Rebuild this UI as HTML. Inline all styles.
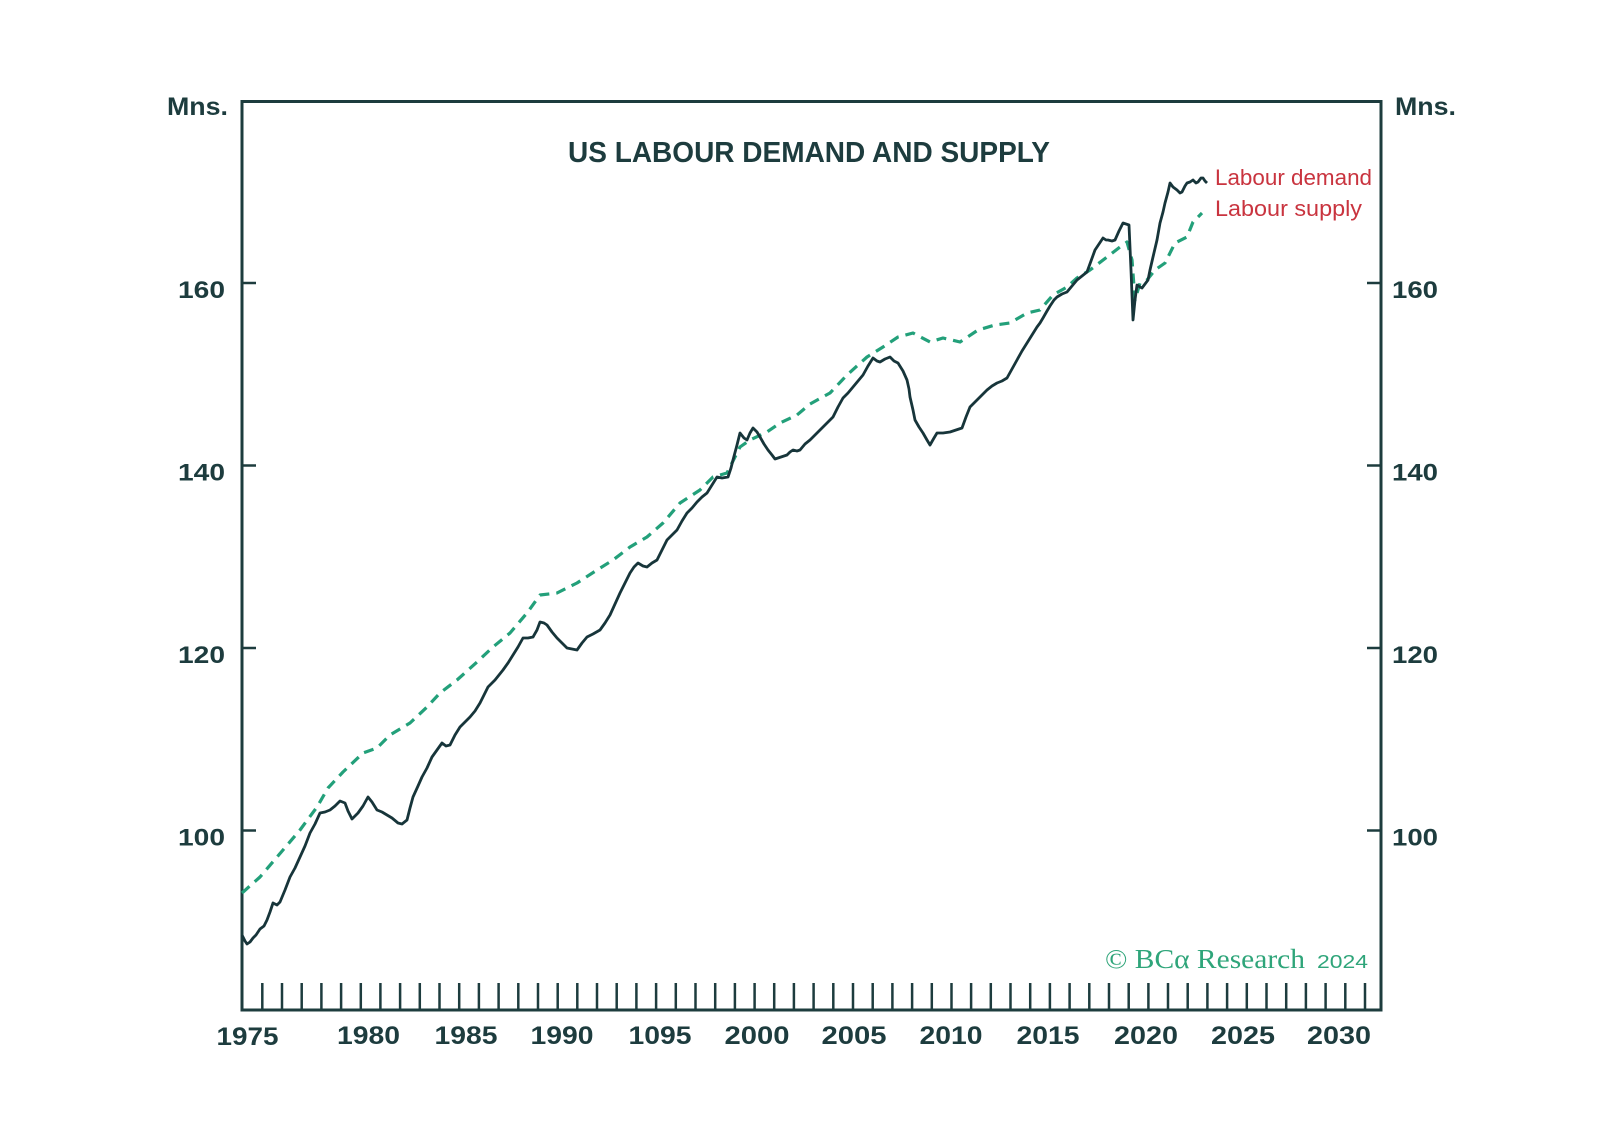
<!DOCTYPE html>
<html>
<head>
<meta charset="utf-8">
<style>
  html,body{margin:0;padding:0;background:#ffffff;}
  svg{display:block;}
  .ax{font-family:"Liberation Sans",sans-serif;font-weight:bold;fill:#1d3c3e;}
</style>
</head>
<body>
<svg width="1598" height="1144" viewBox="0 0 1598 1144" xmlns="http://www.w3.org/2000/svg">
  <rect x="0" y="0" width="1598" height="1144" fill="#ffffff"/>

  <!-- plot frame -->
  <rect x="242" y="101.5" width="1139" height="908.5" fill="none" stroke="#1d3c3e" stroke-width="3"/>

  <!-- y ticks -->
  <g stroke="#1d3c3e" stroke-width="2.5">
    <line x1="242" y1="283" x2="256" y2="283"/>
    <line x1="242" y1="465.5" x2="256" y2="465.5"/>
    <line x1="242" y1="648" x2="256" y2="648"/>
    <line x1="242" y1="830.5" x2="256" y2="830.5"/>
    <line x1="1367" y1="283" x2="1381" y2="283"/>
    <line x1="1367" y1="465.5" x2="1381" y2="465.5"/>
    <line x1="1367" y1="648" x2="1381" y2="648"/>
    <line x1="1367" y1="830.5" x2="1381" y2="830.5"/>
  </g>

  <!-- x ticks -->
  <g stroke="#1d3c3e" stroke-width="2.5">
    <line x1="262.3" y1="983" x2="262.3" y2="1010"/><line x1="282.0" y1="983" x2="282.0" y2="1010"/><line x1="301.7" y1="983" x2="301.7" y2="1010"/><line x1="321.4" y1="983" x2="321.4" y2="1010"/><line x1="341.1" y1="983" x2="341.1" y2="1010"/><line x1="360.8" y1="983" x2="360.8" y2="1010"/><line x1="380.4" y1="983" x2="380.4" y2="1010"/><line x1="400.1" y1="983" x2="400.1" y2="1010"/><line x1="419.8" y1="983" x2="419.8" y2="1010"/><line x1="439.5" y1="983" x2="439.5" y2="1010"/>
    <line x1="459.2" y1="983" x2="459.2" y2="1010"/><line x1="478.9" y1="983" x2="478.9" y2="1010"/><line x1="498.6" y1="983" x2="498.6" y2="1010"/><line x1="518.3" y1="983" x2="518.3" y2="1010"/><line x1="538.0" y1="983" x2="538.0" y2="1010"/><line x1="557.7" y1="983" x2="557.7" y2="1010"/><line x1="577.3" y1="983" x2="577.3" y2="1010"/><line x1="597.0" y1="983" x2="597.0" y2="1010"/><line x1="616.7" y1="983" x2="616.7" y2="1010"/><line x1="636.4" y1="983" x2="636.4" y2="1010"/>
    <line x1="656.1" y1="983" x2="656.1" y2="1010"/><line x1="675.8" y1="983" x2="675.8" y2="1010"/><line x1="695.5" y1="983" x2="695.5" y2="1010"/><line x1="715.2" y1="983" x2="715.2" y2="1010"/><line x1="734.9" y1="983" x2="734.9" y2="1010"/><line x1="754.6" y1="983" x2="754.6" y2="1010"/><line x1="774.2" y1="983" x2="774.2" y2="1010"/><line x1="793.9" y1="983" x2="793.9" y2="1010"/><line x1="813.6" y1="983" x2="813.6" y2="1010"/><line x1="833.3" y1="983" x2="833.3" y2="1010"/>
    <line x1="853.0" y1="983" x2="853.0" y2="1010"/><line x1="872.7" y1="983" x2="872.7" y2="1010"/><line x1="892.4" y1="983" x2="892.4" y2="1010"/><line x1="912.1" y1="983" x2="912.1" y2="1010"/><line x1="931.8" y1="983" x2="931.8" y2="1010"/><line x1="951.5" y1="983" x2="951.5" y2="1010"/><line x1="971.1" y1="983" x2="971.1" y2="1010"/><line x1="990.8" y1="983" x2="990.8" y2="1010"/><line x1="1010.5" y1="983" x2="1010.5" y2="1010"/><line x1="1030.2" y1="983" x2="1030.2" y2="1010"/>
    <line x1="1049.9" y1="983" x2="1049.9" y2="1010"/><line x1="1069.6" y1="983" x2="1069.6" y2="1010"/><line x1="1089.3" y1="983" x2="1089.3" y2="1010"/><line x1="1109.0" y1="983" x2="1109.0" y2="1010"/><line x1="1128.7" y1="983" x2="1128.7" y2="1010"/><line x1="1148.4" y1="983" x2="1148.4" y2="1010"/><line x1="1168.0" y1="983" x2="1168.0" y2="1010"/><line x1="1187.7" y1="983" x2="1187.7" y2="1010"/><line x1="1207.4" y1="983" x2="1207.4" y2="1010"/><line x1="1227.1" y1="983" x2="1227.1" y2="1010"/>
    <line x1="1246.8" y1="983" x2="1246.8" y2="1010"/><line x1="1266.5" y1="983" x2="1266.5" y2="1010"/><line x1="1286.2" y1="983" x2="1286.2" y2="1010"/><line x1="1305.9" y1="983" x2="1305.9" y2="1010"/><line x1="1325.6" y1="983" x2="1325.6" y2="1010"/><line x1="1345.3" y1="983" x2="1345.3" y2="1010"/><line x1="1365.0" y1="983" x2="1365.0" y2="1010"/>
  </g>

  <!-- axis labels -->
  <text class="ax" x="167" y="115" font-size="25" textLength="61" lengthAdjust="spacingAndGlyphs">Mns.</text>
  <text class="ax" x="1395" y="115" font-size="25" textLength="61" lengthAdjust="spacingAndGlyphs">Mns.</text>

  <g class="ax" font-size="24">
    <text x="178" y="298" textLength="47" lengthAdjust="spacingAndGlyphs">160</text>
    <text x="178" y="480.5" textLength="47" lengthAdjust="spacingAndGlyphs">140</text>
    <text x="178" y="663" textLength="47" lengthAdjust="spacingAndGlyphs">120</text>
    <text x="178" y="845.5" textLength="47" lengthAdjust="spacingAndGlyphs">100</text>
    <text x="1392" y="298" textLength="46" lengthAdjust="spacingAndGlyphs">160</text>
    <text x="1392" y="480.5" textLength="46" lengthAdjust="spacingAndGlyphs">140</text>
    <text x="1392" y="663" textLength="46" lengthAdjust="spacingAndGlyphs">120</text>
    <text x="1392" y="845.5" textLength="46" lengthAdjust="spacingAndGlyphs">100</text>
  </g>

  <g class="ax" font-size="25" text-anchor="middle">
    <text x="247.5" y="1045" textLength="62" lengthAdjust="spacingAndGlyphs">1975</text>
    <text x="368.5" y="1044" textLength="63" lengthAdjust="spacingAndGlyphs">1980</text>
    <text x="466" y="1044" textLength="63" lengthAdjust="spacingAndGlyphs">1985</text>
    <text x="562" y="1044" textLength="63" lengthAdjust="spacingAndGlyphs">1990</text>
    <text x="660" y="1044" textLength="63" lengthAdjust="spacingAndGlyphs">1095</text>
    <text x="757" y="1044" textLength="65" lengthAdjust="spacingAndGlyphs">2000</text>
    <text x="854" y="1044" textLength="65" lengthAdjust="spacingAndGlyphs">2005</text>
    <text x="951" y="1044" textLength="63" lengthAdjust="spacingAndGlyphs">2010</text>
    <text x="1048" y="1044" textLength="63" lengthAdjust="spacingAndGlyphs">2015</text>
    <text x="1146" y="1044" textLength="64" lengthAdjust="spacingAndGlyphs">2020</text>
    <text x="1243" y="1044" textLength="64" lengthAdjust="spacingAndGlyphs">2025</text>
    <text x="1339" y="1044" textLength="64" lengthAdjust="spacingAndGlyphs">2030</text>
  </g>

  <!-- title -->
  <text class="ax" x="568" y="162" font-size="29" textLength="482" lengthAdjust="spacingAndGlyphs">US LABOUR DEMAND AND SUPPLY</text>

  <!-- supply (dashed green) -->
  <polyline fill="none" stroke="#23a07a" stroke-width="3.2" stroke-dasharray="10 7" stroke-linejoin="round"
    points="242,893 260,877 283,850 300,830 317,807 328,788 343,772 363,753 377,748 390,735 410,723 427,707 440,693 457,680 477,662 493,647 510,633 527,613 540,595 557,593 577,583 597,570 613,560 630,547 647,537 663,523 680,503 700,490 713,477 727,473 740,447 750,440 767,432 780,423 797,415 810,404 830,393 847,375 867,357 883,347 898,337 913,333 930,342 943,338 960,342 978,330 995,325 1010,323 1027,313 1040,310 1053,295 1067,287 1077,278 1090,270 1107,257 1120,247 1127,242 1132,260 1135,300 1140,283 1147,280 1155,270 1165,263 1175,243 1187,237 1193,222 1202,213"/>

  <!-- demand (solid dark) -->
  <polyline fill="none" stroke="#17353a" stroke-width="2.8" stroke-linejoin="round"
    points="242,935 245,941 247,944 250,942 253,938 256,935 260,929 264,926 267,920 270,912 273,903 277,905 280,902 285,890 290,877 295,868 300,857 305,846 310,833 315,824 320,813 325,812 330,810 335,806 340,801 345,803 348,811 352,819 355,816 358,813 363,806 368,797 372,802 377,810 382,812 387,815 392,818 398,823 402,824 407,820 410,808 413,797 418,786 422,777 427,768 432,757 437,750 442,743 446,746 450,745 455,735 460,727 465,722 470,717 475,711 480,703 484,695 488,687 495,680 503,670 508,663 513,655 518,647 523,638 528,638 533,637 537,630 540,622 544,623 547,625 552,632 557,638 562,643 567,648 572,649 577,650 582,643 587,637 593,634 600,630 605,623 610,615 615,604 620,593 625,583 630,573 634,567 638,563 643,566 647,567 652,563 657,560 662,550 667,540 672,535 677,530 682,521 687,513 692,508 697,502 702,497 707,493 712,485 717,477 722,478 728,477 731,468 733,460 737,445 740,433 744,438 747,440 750,433 753,428 757,432 760,437 764,444 768,450 772,455 775,459 781,457 787,455 790,452 793,450 797,451 800,450 805,444 810,440 816,434 823,427 828,422 833,417 838,407 843,398 848,393 853,387 858,381 863,375 868,366 873,358 877,361 880,362 885,359 890,357 894,361 898,363 903,371 907,380 909,389 910,397 913,410 915,420 919,427 923,433 927,440 930,445 934,438 937,433 943,433 950,432 956,430 962,428 966,417 970,407 974,403 977,400 982,395 987,390 992,386 997,383 1002,381 1007,378 1012,369 1017,360 1022,351 1027,343 1032,335 1037,327 1040,323 1043,318 1047,311 1050,306 1054,300 1057,297 1062,294 1067,292 1072,286 1077,280 1082,276 1087,272 1091,261 1095,250 1099,244 1103,238 1106,240 1108,240 1112,241 1115,240 1119,231 1123,223 1126,224 1129,225 1131,270 1133,320 1135,300 1137,285 1140,287 1142,288 1145,284 1148,280 1150,270 1153,257 1157,240 1160,223 1163,212 1165,203 1168,192 1170,183 1173,187 1177,190 1180,193 1182,192 1185,186 1187,183 1190,182 1193,180 1196,183 1198,182 1201,178 1203,178 1205,181 1207,183"/>

  <!-- legend -->
  <g font-family="Liberation Sans, sans-serif" font-size="22" fill="#c9343f">
    <text x="1215" y="185" textLength="157" lengthAdjust="spacingAndGlyphs">Labour demand</text>
    <text x="1215" y="216" textLength="147" lengthAdjust="spacingAndGlyphs">Labour supply</text>
  </g>

  <!-- copyright -->
  <text x="1105" y="968" font-family="Liberation Serif, serif" font-size="27" fill="#2fa57a" textLength="200" lengthAdjust="spacingAndGlyphs">© BCα Research</text>
  <text x="1317" y="968" font-family="Liberation Sans, sans-serif" font-size="18" fill="#2fa57a" textLength="51" lengthAdjust="spacingAndGlyphs">2024</text>
</svg>
</body>
</html>
